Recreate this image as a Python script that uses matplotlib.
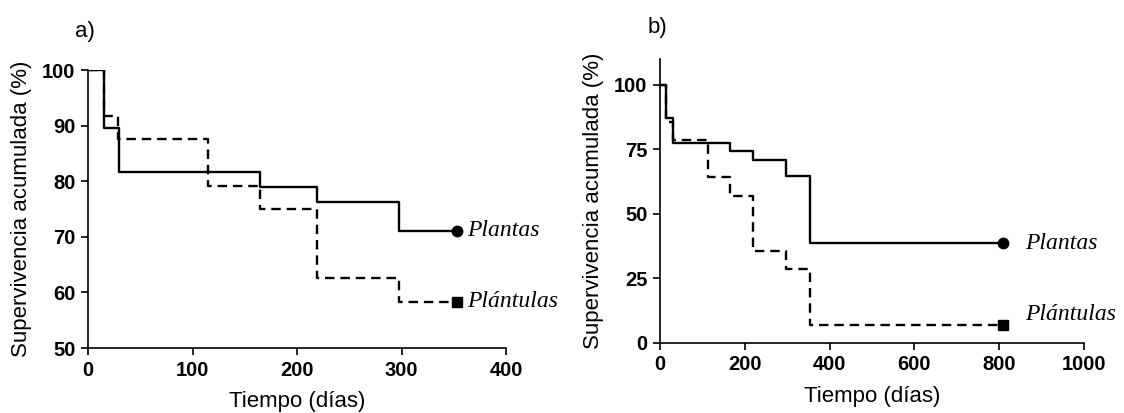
import matplotlib
matplotlib.use("Agg")
import matplotlib.pyplot as plt

# Panel a)
a_plantas_t = [0, 15, 30, 165, 219, 298, 353]
a_plantas_s = [100, 89.5, 81.6, 78.9, 76.3, 71.1, 71.1]
a_plantulas_t = [0, 15, 29, 115, 165, 219, 298, 353]
a_plantulas_s = [100, 91.7, 87.5, 79.2, 75.0, 62.5, 58.3, 58.3]

# Panel b)
b_plantas_t = [0, 15, 31, 164, 219, 298, 353, 809]
b_plantas_s = [100, 87.1, 77.4, 74.2, 71.0, 64.5, 38.7, 38.7]
b_plantulas_t = [0, 15, 30, 114, 165, 219, 298, 353, 809]
b_plantulas_s = [100, 85.7, 78.6, 64.3, 57.1, 35.7, 28.6, 7.1, 7.1]

SANS = "Liberation Sans"
SERIF = "Liberation Serif"

fig = plt.figure(figsize=(11.24, 4.13), dpi=100)
W, H = 1124, 413


def add_ax(left, right, top, bottom):
    return fig.add_axes([left / W, 1 - bottom / H, (right - left) / W, (bottom - top) / H])


def style(ax):
    for s in ("top", "right"):
        ax.spines[s].set_visible(False)
    for s in ("left", "bottom"):
        ax.spines[s].set_linewidth(1.2)
    ax.tick_params(direction="out", length=5, width=1.2, pad=4)
    for lab in ax.get_xticklabels() + ax.get_yticklabels():
        lab.set_fontfamily(SANS)
        lab.set_fontweight("bold")
        lab.set_fontsize(14.5)
    ax.set_xlabel("Tiempo (días)", fontfamily=SANS, fontsize=16, labelpad=8)
    ax.set_ylabel("Supervivencia acumulada (%)", fontfamily=SANS, fontsize=16, labelpad=7)


def draw(ax, t1, s1, t2, s2):
    ax.step(t1, s1, where="post", color="black", lw=1.7)
    ax.step(t2, s2, where="post", color="black", lw=1.7, ls=(0, (4, 2.5)))
    ax.plot(t1[-1], s1[-1], "o", color="black", ms=7.5, clip_on=False)
    ax.plot(t2[-1], s2[-1], "s", color="black", ms=7, clip_on=False)


# a)
ax1 = add_ax(88, 506, 70, 348)
draw(ax1, a_plantas_t, a_plantas_s, a_plantulas_t, a_plantulas_s)
ax1.set_xlim(0, 400)
ax1.set_ylim(50, 100)
ax1.set_xticks([0, 100, 200, 300, 400])
ax1.set_yticks([50, 60, 70, 80, 90, 100])
ax1.text(363, 71.1, "Plantas", fontfamily=SERIF, style="italic", fontsize=17,
         va="center", ha="left", clip_on=False)
ax1.text(363, 58.3, "Plántulas", fontfamily=SERIF, style="italic", fontsize=17,
         va="center", ha="left", clip_on=False)
style(ax1)

# b)
ax2 = add_ax(660, 1084, 59, 343)
draw(ax2, b_plantas_t, b_plantas_s, b_plantulas_t, b_plantulas_s)
ax2.set_xlim(0, 1000)
ax2.set_ylim(0, 110)
ax2.set_xticks([0, 200, 400, 600, 800, 1000])
ax2.set_yticks([0, 25, 50, 75, 100])
ax2.text(862, 38.7, "Plantas", fontfamily=SERIF, style="italic", fontsize=17,
         va="center", ha="left", clip_on=False)
ax2.text(862, 11, "Plántulas", fontfamily=SERIF, style="italic", fontsize=17,
         va="center", ha="left", clip_on=False)
style(ax2)

fig.text(75 / W, 1 - 31 / H, "a)", fontfamily=SANS, fontsize=16, va="center", ha="left")
fig.text(648 / W, 1 - 27 / H, "b)", fontfamily=SANS, fontsize=16, va="center", ha="left")

fig.savefig("out.png", dpi=100)
